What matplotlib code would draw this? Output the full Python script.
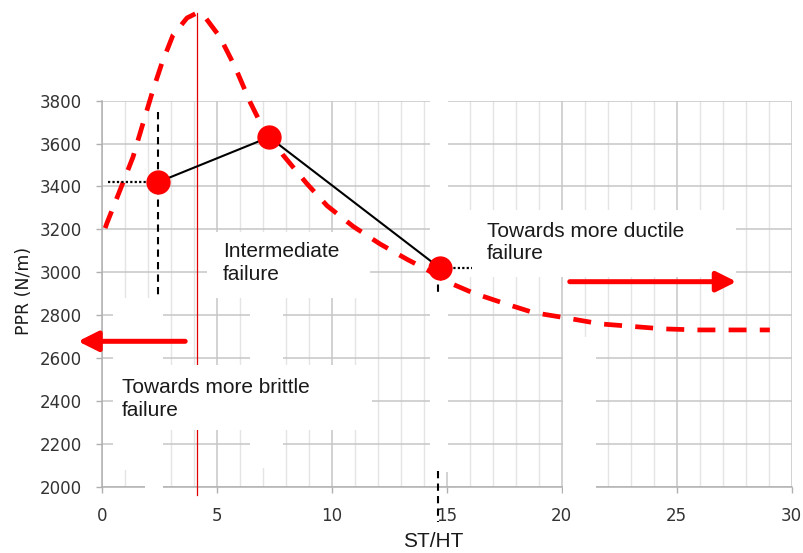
import numpy as np
import matplotlib
matplotlib.use('Agg')
import matplotlib.pyplot as plt
from matplotlib.patches import Rectangle
from matplotlib.ticker import MultipleLocator

# measured points (ST/HT, PPR)
pt_x = [2.45, 7.28, 14.71]
pt_y = [3420, 3630, 3019]

# red dashed trend curve
curve_x = [0.15, 0.23, 0.8, 1.36, 1.8, 2.23, 2.62, 3.1, 3.71, 4.14, 4.49, 5.14, 5.8,
           6.45, 6.88, 7.88, 8.93, 9.8, 10.93, 12.1, 13.28, 14.14, 15.01, 16.16,
           17.47, 18.77, 20.25, 21.7, 23.0, 24.4, 25.9, 27.3, 29.05]
curve_y = [3206, 3230, 3384, 3537, 3696, 3850, 3976, 4106, 4186, 4209, 4190, 4097, 3957,
           3794, 3701, 3547, 3412, 3310, 3214, 3132, 3060, 3012, 2956, 2903,
           2856, 2812, 2786, 2759, 2748, 2736, 2731, 2731, 2731]

peak_x = 4.16
peak_line_y = [1960, 4209]

x_ticks = [0, 5, 10, 15, 20, 25, 30]
y_ticks = [2000, 2200, 2400, 2600, 2800, 3000, 3200, 3400, 3600, 3800]

# white boxes (text boxes pasted over the chart): x0, x1, y0, y1
masks = [
    (4.59, 11.67, 2880, 3188),
    (0.50, 11.75, 2264, 2567),
    (15.05, 27.6, 2977, 3290),
    (0.49, 2.67, 2080, 2880),
    (1.90, 2.67, 1940, 2080),
    (14.28, 15.07, 2070, 3850),
    (6.45, 7.90, 2085, 2880),
    (20.05, 21.5, 1940, 2700),
]

fig = plt.figure(figsize=(8.04, 5.53), dpi=100)
ax = fig.add_axes([0.1265, 0.1199, 0.8582, 0.698])
ax.set_xlim(0, 30)
ax.set_ylim(2000, 3800)
ax.set_xticks(x_ticks)
ax.set_yticks(y_ticks)
ax.xaxis.set_minor_locator(MultipleLocator(1))
ax.set_axisbelow(True)
ax.grid(which='major', color='#c6c6c6', lw=1.1)
ax.grid(which='minor', axis='x', color='#e4e4e4', lw=1.0)
ax.tick_params(which='major', length=4.3, width=1.0, color='#b0b0b0', pad=10,
               labelsize=12, labelcolor='#333333')
ax.tick_params(which='minor', length=0)
for s in ['top', 'right']:
    ax.spines[s].set_visible(False)
for s in ['left', 'bottom']:
    ax.spines[s].set_color('#b0b0b0')
    ax.spines[s].set_linewidth(1.1)
    ax.spines[s].set_zorder(0.6)

# red vertical line through the peak
ax.plot([peak_x, peak_x], peak_line_y, color='#e00000', lw=0.9, zorder=0.9, clip_on=False)

for x0, x1, y0, y1 in masks:
    ax.add_patch(Rectangle((x0, y0), x1 - x0, y1 - y0, facecolor='white', edgecolor='none',
                           zorder=1, clip_on=False))

# dashed trend
ax.plot(curve_x, curve_y, color='red', lw=3.4, linestyle=(0, (3.8, 2.8)),
        dash_capstyle='butt', zorder=3, clip_on=False)

# guide lines to the points
ax.plot([pt_x[0], pt_x[0]], [3747, 2880], color='black', lw=1.5, linestyle=(0, (3.5, 2.5)), zorder=3)
ax.plot([0.28, pt_x[0]], [pt_y[0], pt_y[0]], color='black', lw=1.6, linestyle=(0, (1, 1)), zorder=3)
ax.plot([pt_x[2], 16.1], [pt_y[2], pt_y[2]], color='black', lw=1.6, linestyle=(0, (1, 1)), zorder=3)
ax.plot([14.6, 14.6], [3000, 2885], color='black', lw=1.5, linestyle=(0, (3.5, 2.5)), zorder=3)
ax.plot([14.6, 14.6], [2075, 1836], color='black', lw=1.5, linestyle=(0, (3.5, 2.5)),
        zorder=3, clip_on=False)

ax.plot(pt_x, pt_y, color='black', lw=1.5, zorder=4)
ax.plot(pt_x, pt_y, 'o', color='red', ms=16.5, zorder=5)

arw = dict(arrowstyle='-|>,head_length=1.2,head_width=0.6', color='red', lw=3.6,
           mutation_scale=10, shrinkA=0, shrinkB=0)
ax.annotate('', xy=(-1.03, 2678), xytext=(3.63, 2678), arrowprops=arw,
            annotation_clip=False, zorder=4)
ax.annotate('', xy=(27.6, 2956), xytext=(20.35, 2956), arrowprops=arw,
            annotation_clip=False, zorder=4)

tfont = dict(family=['Liberation Sans', 'DejaVu Sans'], fontsize=15, color='#1a1a1a',
             va='top', ha='left', linespacing=1.22, zorder=6)
ax.text(5.27, 3140, 'Intermediate\nfailure', **tfont)
ax.text(0.88, 2505, 'Towards more brittle\nfailure', **tfont)
ax.text(16.75, 3235, 'Towards more ductile\nfailure', **tfont)

ax.set_ylabel('PPR (N/m)', fontsize=12.5, color='#1a1a1a')
ax.yaxis.set_label_coords(-0.0996, 0.507)
ax.set_xlabel('ST/HT', fontsize=15, color='#1a1a1a', family=['Liberation Sans', 'DejaVu Sans'])
ax.xaxis.set_label_coords(0.480, -0.117)

fig.savefig('out.png', dpi=100)
